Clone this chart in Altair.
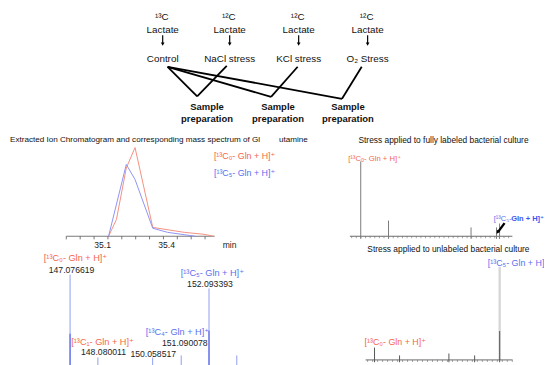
import altair as alt
import pandas as pd

# ---------------- page geometry (reference pixels -> plot pixels) ----------------
W, H = 552, 365
M = 8  # page margin of the html page


def rng(a, b):
    return [a - M, b - M]


FONT = "Liberation Sans, Arial, DejaVu Sans"
RED_TXT = "#f4664c"
BLUE_TXT = "#5a6ff0"
RED_LINE = "#f58f80"
BLUE_LINE = "#8d93f3"

# ---------------- data: flowchart ----------------
flow_isotope = ["¹³C", "¹²C", "¹²C", "¹²C"]
flow_substrate = ["Lactate", "Lactate", "Lactate", "Lactate"]
flow_condition = ["Control", "NaCl stress", "KCl stress", "O₂ Stress"]
flow_prep = ["Sample", "Sample", "Sample"]
flow_prep2 = ["preparation", "preparation", "preparation"]

# ---------------- data: chromatogram (min, relative intensity) ----------------
chrom_red_t = [35.128, 35.165, 35.211, 35.252, 35.335, 35.483, 35.575, 35.621]
chrom_red_i = [0, 19, 77, 100, 10, 4.4, 2.2, 0]
chrom_blue_t = [35.128, 35.211, 35.252, 35.335, 35.405, 35.534]
chrom_blue_i = [0, 81, 64, 9, 4.4, 0]
chrom_tick_t = [34.93, 34.995, 35.06, 35.125, 35.19, 35.255, 35.32, 35.385, 35.45, 35.515, 35.58]
chrom_tick_labels = ["35.1", "35.4"]
chrom_tick_label_t = [35.1, 35.4]

# ---------------- data: left mass spectrum ----------------
ms_mz = [147.076619, 148.080011, 150.058517, 151.090078, 152.093393, 153.0967]
ms_int = [100, 12.5, 12.5, 14.6, 85.4, 14.6]
ms_dark_mz = [147.076619, 152.093393]
ms_dark_int = [37.5, 40.6]

# ---------------- data: stress applied to fully labeled culture ----------------
lab_mz = [147.0766, 148.08, 151.06, 151.98, 152.09]
lab_int = [100, 21, 11.8, 11.8, 17]

# ---------------- data: stress applied to unlabeled culture ----------------
unl_mz = [147.0766, 148.08, 150.0585, 151.09, 152.0934]
unl_int = [13.2, 4.8, 6.9, 4.8, 31]
unl_main_mz = [152.0934]
unl_main_int = [100]

# ================= layout helpers =================
CX = alt.Scale(domain=[0, W], range=rng(0, W), nice=False, zero=False)
CY = alt.Scale(domain=[0, H], range=rng(0, H), nice=False, zero=False)


def canvas_text(df, **kw):
    base = dict(font=FONT, fontSize=10, align="center", baseline="middle", color="#111")
    base.update(kw)
    return alt.Chart(df).mark_text(**base).encode(
        x=alt.X("x:Q", scale=CX, axis=None),
        y=alt.Y("y:Q", scale=CY, axis=None),
        text="t:N",
    )


def canvas_seg(df, **kw):
    base = dict(color="#000", strokeWidth=1.8)
    base.update(kw)
    return alt.Chart(df).mark_rule(**base).encode(
        x=alt.X("x:Q", scale=CX, axis=None),
        y=alt.Y("y:Q", scale=CY, axis=None),
        x2="x2:Q",
        y2="y2:Q",
    )


layers = []

# ---------------- flowchart ----------------
col_x = [165, 233, 303, 373]
prep_x = [210, 282, 353]
layers.append(canvas_text(pd.DataFrame({"t": flow_isotope, "x": [c - 1 for c in col_x], "y": [15] * 4})))
layers.append(canvas_text(pd.DataFrame({"t": flow_substrate, "x": col_x, "y": [28] * 4})))
layers.append(canvas_text(pd.DataFrame({"t": flow_condition, "x": col_x, "y": [57] * 4})))
layers.append(canvas_text(pd.DataFrame({"t": flow_prep, "x": prep_x, "y": [106] * 3}), fontWeight="bold", fontSize=9.6))
layers.append(canvas_text(pd.DataFrame({"t": flow_prep2, "x": prep_x, "y": [118] * 3}), fontWeight="bold", fontSize=9.6))
layers.append(canvas_seg(pd.DataFrame({"x": col_x, "x2": col_x, "y": [33] * 4, "y2": [41] * 4}), strokeWidth=1.2))
layers.append(
    alt.Chart(pd.DataFrame({"x": col_x, "y": [42] * 4}))
    .mark_point(shape="triangle-down", filled=True, size=14, color="#000", opacity=1)
    .encode(x=alt.X("x:Q", scale=CX, axis=None), y=alt.Y("y:Q", scale=CY, axis=None))
)
hub = (170, 65)
v_bottom = [(200, 95), (275, 95.5), (347, 97.5)]
cond_tops = [(230, 64), (302, 65), (367, 65)]
seg_rows = []
for (bx_, by_), (tx_, ty_) in zip(v_bottom, cond_tops):
    seg_rows.append({"x": hub[0], "y": hub[1], "x2": bx_, "y2": by_})
    seg_rows.append({"x": tx_, "y": ty_, "x2": bx_, "y2": by_})
layers.append(canvas_seg(pd.DataFrame(seg_rows)))

# ---------------- titles ----------------
layers.append(canvas_text(pd.DataFrame({"t": ["Extracted Ion Chromatogram and corresponding mass spectrum of Gl", "utamine"],
                                         "x": [10, 283], "y": [139, 139]}), fontSize=8.25, align="left"))
layers.append(canvas_text(pd.DataFrame({"t": ["Stress applied to fully labeled bacterial culture",
                                               "Stress applied to unlabeled bacterial culture"],
                                         "x": [450, 455], "y": [139, 250]}), fontSize=8.5))

# ---------------- chromatogram ----------------
TX = alt.Scale(domain=[35.1, 35.4], range=rng(104, 169), nice=False, zero=False)
TY = alt.Scale(domain=[0, 100], range=rng(237, 147), nice=False, zero=False)


def tx(f="t:Q"):
    return alt.X(f, scale=TX, axis=None)


def ty(f="i:Q"):
    return alt.Y(f, scale=TY, axis=None)


layers.append(alt.Chart(pd.DataFrame({"t": [34.93], "t2": [35.625], "i": [0]}))
              .mark_rule(color="#555", strokeWidth=0.8).encode(x=tx(), x2="t2:Q", y=ty()))
layers.append(alt.Chart(pd.DataFrame({"t": chrom_tick_t, "i": [0] * len(chrom_tick_t), "i2": [-3.5] * len(chrom_tick_t)}))
              .mark_rule(color="#555", strokeWidth=0.8).encode(x=tx(), y=ty(), y2="i2:Q"))
layers.append(alt.Chart(pd.DataFrame({"t": chrom_red_t, "i": chrom_red_i}))
              .mark_line(color=RED_LINE, strokeWidth=1).encode(x=tx(), y=ty()))
layers.append(alt.Chart(pd.DataFrame({"t": chrom_blue_t, "i": chrom_blue_i}))
              .mark_line(color=BLUE_LINE, strokeWidth=1).encode(x=tx(), y=ty()))
layers.append(alt.Chart(pd.DataFrame({"t": chrom_tick_label_t + [35.695], "i": [-10, -10, -10],
                                      "s": chrom_tick_labels + ["min"]}))
              .mark_text(font=FONT, fontSize=8.7, color="#222", baseline="middle")
              .encode(x=tx(), y=ty(), text="s:N"))
layers.append(alt.Chart(pd.DataFrame({"t": [35.765, 35.765], "i": [91, 71],
                                      "s": ["[¹³C₀- Gln + H]⁺", "[¹³C₅- Gln + H]⁺"], "c": ["r", "b"]}))
              .mark_text(font=FONT, fontSize=9, baseline="middle")
              .encode(x=tx(), y=ty(), text="s:N",
                      color=alt.Color("c:N", scale=alt.Scale(domain=["r", "b"], range=[RED_TXT, BLUE_TXT]), legend=None)))

# ---------------- left mass spectrum ----------------
LX = alt.Scale(domain=[147.076619, 152.093393], range=rng(71, 212), nice=False, zero=False)
LY = alt.Scale(domain=[0, 100], range=rng(372, 276), nice=False, zero=False)


def lx(f="mz:Q"):
    return alt.X(f, scale=LX, axis=None)


def ly(f="i:Q"):
    return alt.Y(f, scale=LY, axis=None)


layers.append(alt.Chart(pd.DataFrame({"mz": ms_mz, "i": ms_int, "z": [0] * len(ms_mz)}))
              .mark_rule(color="#8f9cf3", strokeWidth=1).encode(x=lx(), y=ly(), y2="z:Q"))
layers.append(alt.Chart(pd.DataFrame({"mz": ms_dark_mz, "i": ms_dark_int, "z": [0, 0]}))
              .mark_rule(color="#6a78ea", strokeWidth=1.4).encode(x=lx(), y=ly(), y2="z:Q"))
ann_left = pd.DataFrame({
    "mz": [147.272, 147.13, 152.215, 152.128, 150.953, 151.22, 148.25, 148.285, 150.08],
    "i": [117.7, 105.2, 102.0, 90.6, 39.6, 28.1, 29.2, 17.7, 15.6],
    "s": ["[¹³C₀- Gln + H]⁺", "147.076619", "[¹³C₅- Gln + H]⁺", "152.093393", "[¹³C₄- Gln + H]⁺",
          "151.090078", "[¹³C₁- Gln + H]⁺", "148.080011", "150.058517"],
    "c": ["r", "k", "b", "k", "b", "k", "r", "k", "k"],
    "f": [9.3, 8.8, 9.3, 8.8, 9.3, 8.8, 9.3, 8.8, 8.8],
})
layers.append(alt.Chart(ann_left).mark_text(font=FONT, baseline="middle")
              .encode(x=lx(), y=ly(), text="s:N",
                      size=alt.Size("f:Q", scale=None, legend=None),
                      color=alt.Color("c:N", scale=alt.Scale(domain=["r", "b", "k"], range=[RED_TXT, BLUE_TXT, "#222"]),
                                      legend=None)))

# ---------------- right top: fully labeled ----------------
RX = alt.Scale(domain=[147.0766, 152.0934], range=rng(366, 507), nice=False, zero=False)
RY = alt.Scale(domain=[0, 100], range=rng(237, 161), nice=False, zero=False)


def rx(f="mz:Q"):
    return alt.X(f, scale=RX, axis=None)


def ry(f="i:Q"):
    return alt.Y(f, scale=RY, axis=None)


rt_ticks = [146.75 + k / 6 for k in range(35)]
layers.append(alt.Chart(pd.DataFrame({"mz": [146.685], "mz2": [152.553], "i": [0]}))
              .mark_rule(color="#444", strokeWidth=0.8).encode(x=rx(), x2="mz2:Q", y=ry()))
layers.append(alt.Chart(pd.DataFrame({"mz": rt_ticks, "i": [0] * len(rt_ticks), "i2": [-2.6] * len(rt_ticks)}))
              .mark_rule(color="#666", strokeWidth=0.6).encode(x=rx(), y=ry(), y2="i2:Q"))
layers.append(alt.Chart(pd.DataFrame({"mz": lab_mz, "i": lab_int, "z": [-3.5] * len(lab_mz)}))
              .mark_rule(color="#7a7a7a", strokeWidth=1).encode(x=rx(), y=ry(), y2="z:Q"))
layers.append(alt.Chart(pd.DataFrame({"mz": [147.58], "i": [102.6], "s": ["[¹³C₀- Gln + H]⁺"]}))
              .mark_text(font=FONT, fontSize=7.8, color=RED_TXT, baseline="middle")
              .encode(x=rx(), y=ry(), text="s:N"))
layers.append(alt.Chart(pd.DataFrame({"mz": [151.88], "i": [22.4], "s": ["[¹³C₅-"]}))
              .mark_text(font=FONT, fontSize=7.6, color=BLUE_TXT, baseline="middle", align="left")
              .encode(x=rx(), y=ry(), text="s:N"))
layers.append(alt.Chart(pd.DataFrame({"mz": [152.51], "i": [22.4], "s": ["Gln + H]⁺"]}))
              .mark_text(font=FONT, fontSize=7.6, color="#3b55f0", baseline="middle", align="left", fontWeight="bold")
              .encode(x=rx(), y=ry(), text="s:N"))
layers.append(alt.Chart(pd.DataFrame({"mz": [152.27], "i": [17.5], "mz2": [152.05], "i2": [6.5]}))
              .mark_rule(color="#000", strokeWidth=2.4).encode(x=rx(), y=ry(), x2="mz2:Q", y2="i2:Q"))
layers.append(alt.Chart(pd.DataFrame({"mz": [152.03], "i": [6.0]}))
              .mark_point(shape="triangle", filled=True, size=16, color="#000", opacity=1, angle=215)
              .encode(x=rx(), y=ry()))

# ---------------- right bottom: unlabeled ----------------
BX = alt.Scale(domain=[147.0766, 152.0934], range=rng(380, 507), nice=False, zero=False)
BY = alt.Scale(domain=[0, 100], range=rng(362.5, 268), nice=False, zero=False)


def bx(f="mz:Q"):
    return alt.X(f, scale=BX, axis=None)


def by(f="i:Q"):
    return alt.Y(f, scale=BY, axis=None)


rb_ticks = [146.8 + k * 0.2 for k in range(30)]
layers.append(alt.Chart(pd.DataFrame({"mz": unl_main_mz, "i": unl_main_int, "z": [0]}))
              .mark_rule(color="#d6d6d6", strokeWidth=2.4).encode(x=bx(), y=by(), y2="z:Q"))
layers.append(alt.Chart(pd.DataFrame({"mz": [146.72], "mz2": [152.61], "i": [0]}))
              .mark_rule(color="#444", strokeWidth=0.8).encode(x=bx(), x2="mz2:Q", y=by()))
layers.append(alt.Chart(pd.DataFrame({"mz": rb_ticks, "i": [0] * len(rb_ticks), "i2": [-2.2] * len(rb_ticks)}))
              .mark_rule(color="#666", strokeWidth=0.6).encode(x=bx(), y=by(), y2="i2:Q"))
layers.append(alt.Chart(pd.DataFrame({"mz": unl_mz, "i": unl_int, "z": [-2.5] * len(unl_mz)}))
              .mark_rule(color="#555", strokeWidth=1).encode(x=bx(), y=by(), y2="z:Q"))
layers.append(alt.Chart(pd.DataFrame({"mz": [147.907], "i": [19.6], "s": ["[¹³C₀- Gln + H]⁺"]}))
              .mark_text(font=FONT, fontSize=9, color=RED_TXT, baseline="middle")
              .encode(x=bx(), y=by(), text="s:N"))
layers.append(alt.Chart(pd.DataFrame({"mz": [151.62], "i": [104.2], "s": ["[¹³C₅- Gln + H]"]}))
              .mark_text(font=FONT, fontSize=9, color=BLUE_TXT, baseline="middle", align="left")
              .encode(x=bx(), y=by(), text="s:N"))

chart = (
    alt.layer(*layers)
    .resolve_scale(x="independent", y="independent", color="independent", size="independent")
    .properties(width=W - M, height=H - M, padding=0, autosize="none", background="white")
    .configure_view(stroke=None)
)

chart.save("out.html", embed_options={"renderer": "svg", "actions": False})
